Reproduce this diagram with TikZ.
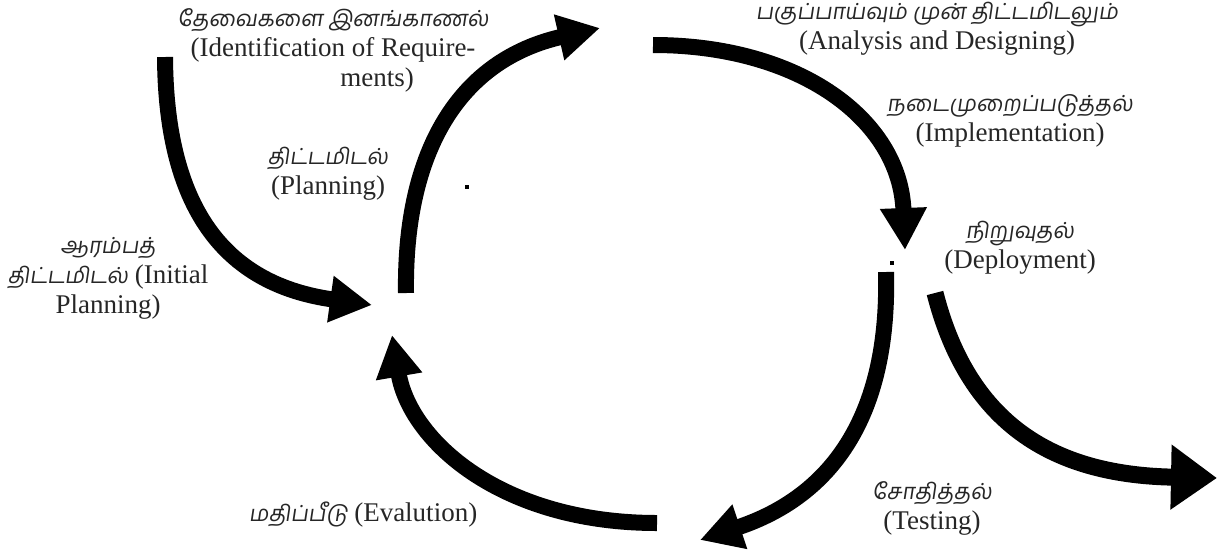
\documentclass[tikz,border=0pt]{standalone}
\usepackage{fontspec}
\setmainfont{Liberation Serif}
\newfontfamily\tamil[Script=Tamil,FakeSlant=0.15,Scale=0.82]{Hind Madurai}
\usetikzlibrary{arrows.meta}
\begin{document}
\begin{tikzpicture}[x=1pt,y=-1pt,
  lbl/.style={align=center,inner sep=0pt,font=\fontsize{27}{30}\selectfont,text=black!85},
  bigarrow/.style={line width=16pt,line cap=butt,-{Triangle[width=44pt,length=42pt]}},
  exitarrow/.style={line width=17pt,line cap=butt,-{Triangle[width=62pt,length=46pt]}}]
\useasboundingbox (0,0) rectangle (1219,550);
\fill[white] (0,0) rectangle (1219,550);
% labels
\node[lbl] (req) at (333,50) {{\tamil தேவைகளை இனங்காணல்}\\(Identification of Require-\\\hspace{88pt}ments)};
\node[lbl] (anal) at (937,29) {{\tamil பகுப்பாய்வும் முன் திட்டமிடலும்}\\(Analysis and Designing)};
\node[lbl] (impl) at (1010,121) {{\tamil நடைமுறைப்படுத்தல்}\\(Implementation)};
\node[lbl] (depl) at (1020,248) {{\tamil நிறுவுதல்}\\(Deployment)};
\node[lbl] (init) at (108,278) {{\tamil ஆரம்பத்}\\{\tamil திட்டமிடல்} (Initial\\Planning)};
\node[lbl] (plan) at (328,174) {{\tamil திட்டமிடல்}\\(Planning)};
\node[lbl] (eval) at (363,515) {{\tamil மதிப்பீடு} (Evalution)};
\node[lbl] (test) at (932,508) {{\tamil சோதித்தல்}\\(Testing)};
% arrow end points
\coordinate (a1s) at (165,57);   \coordinate (a1e) at (372,305);
\coordinate (a2s) at (406,293);  \coordinate (a2e) at (600,28);
\coordinate (a3s) at (653,45);   \coordinate (a3e) at (905,250);
\coordinate (a4s) at (886,272);  \coordinate (a4e) at (700,540);
\coordinate (a5s) at (657,523);  \coordinate (a5e) at (392,335);
\coordinate (a6s) at (935,293);  \coordinate (a6e) at (1217,478);
% arrows
\draw[bigarrow] (a1s) .. controls (166,215) and (230,285) .. (a1e);
\draw[bigarrow] (a2s) .. controls (404,150) and (460,60) .. (a2e);
\draw[bigarrow] (a3s) .. controls (800,45) and (900,120) .. (a3e);
\draw[bigarrow] (a4s) .. controls (890,430) and (820,500) .. (a4e);
\draw[bigarrow] (a5s) .. controls (500,523) and (410,440) .. (a5e);
\draw[exitarrow] (a6s) .. controls (970,430) and (1060,475) .. (a6e);
% stray dots
\fill (465,185) rectangle (469,189);
\fill (890,261) rectangle (894,265);
\end{tikzpicture}
\end{document}
